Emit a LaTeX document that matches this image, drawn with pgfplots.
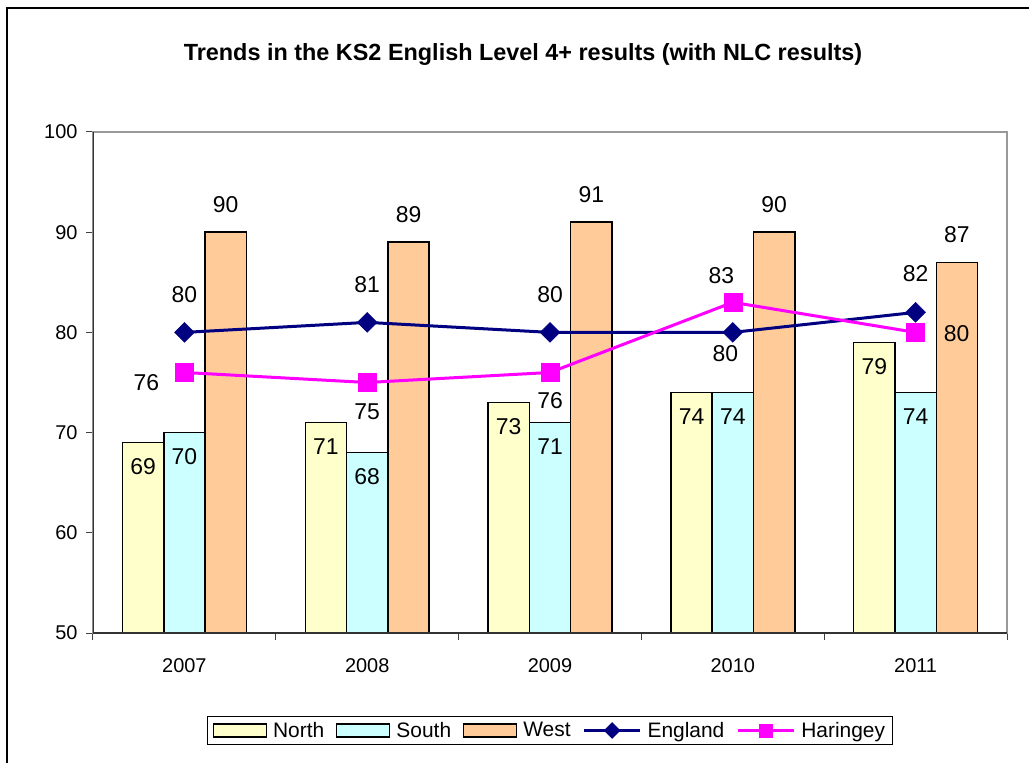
\documentclass[border=0pt]{standalone}
\usepackage{pgfplots}
\usepackage{pgfplotstable}
\pgfplotsset{compat=1.18}
\usepackage{fontspec}
\setmainfont{Liberation Sans}
\definecolor{northc}{HTML}{FFFFCC}
\definecolor{southc}{HTML}{CCFFFF}
\definecolor{westc}{HTML}{FFCC99}
\definecolor{engc}{HTML}{000080}
\definecolor{harc}{HTML}{FF00FF}
\newcommand{\lf}{\fontsize{20}{24}\selectfont}
\newcommand{\df}{\fontsize{23}{27}\selectfont}
\newcommand{\gf}{\fontsize{21}{25}\selectfont}
\pgfplotsset{
  barleg/.style={legend image code/.code={\draw[##1, line width=1.2bp] (0bp,-6.5bp) rectangle (53bp,6.5bp);}},
  lineleg/.style={legend image code/.code={\draw[mark repeat=2, mark phase=2, ##1, every mark/.append style={scale=#1}] plot coordinates {(0bp,0bp) (28bp,0bp) (56bp,0bp)};}},
}
\pgfplotstableread{
x y
0 69
1 71
2 73
3 74
4 79
}\north
\pgfplotstableread{
x y
0 70
1 68
2 71
3 74
4 74
}\south
\pgfplotstableread{
x y
0 90
1 89
2 91
3 90
4 87
}\west
\pgfplotstableread{
x y dx dy
0 80 0 38
1 81 0 37.5
2 80 0 37.5
3 80 -7.5 -21.5
4 82 0 38.5
}\england
\pgfplotstableread{
x y dx dy
0 76 -38 -10
1 75 0 -29.5
2 76 0 -28
3 83 -11.5 26.5
4 80 41 -1
}\haringey
\begin{document}
\begin{tikzpicture}
\path[use as bounding box] (0,0) rectangle (1029bp,763bp);
\draw[black, line width=1.5bp] (7bp,0) -- (7bp,755bp) -- (1029bp,755bp);
\node[font=\fontsize{23.5}{27}\selectfont\bfseries] at (523bp,708bp) {Trends in the KS2 English Level 4+ results (with NLC results)};
\begin{axis}[
  at={(93bp,130bp)}, anchor=south west,
  scale only axis, width=914bp, height=501bp,
  xmin=-0.5, xmax=4.5, ymin=50, ymax=100,
  xtick={-0.5,0.5,...,4.5},
  x tick label as interval,
  xticklabels={2007,2008,2009,2010,2011},
  ytick={50,60,...,100},
  tick pos=left, tick align=outside, major tick length=7bp,
  tick style={black!75, line width=1bp},
  axis line style={black!40, line width=1.2bp},
  /pgf/number format/assume math mode=true,
  ticklabel style={font=\lf},
  xticklabel style={yshift=-15bp},
  yticklabel style={xshift=-5bp},
  legend columns=5,
  legend style={at={(0.5,-0.1946)}, anchor=center, draw=black, line width=1bp,
    font=\gf, inner xsep=5bp, inner ysep=4bp,
    /tikz/every odd column/.append style={column sep=4bp},
    /tikz/every even column/.append style={column sep=10bp}},
  legend cell align=left,
  every node near coord/.append style={font=\df, text=black},
]
\addplot[ybar, bar width=41.3bp, bar shift=-41.3bp, fill=northc, draw=black, line width=1.5bp,
  nodes near coords, every node near coord/.append style={anchor=center, xshift=-41.3bp, yshift=-24bp}, barleg]
  table[x=x,y=y] {\north};
\addlegendentry{North}
\addplot[ybar, bar width=41.3bp, bar shift=0bp, fill=southc, draw=black, line width=1.5bp,
  nodes near coords, every node near coord/.append style={anchor=center, yshift=-24bp}, barleg]
  table[x=x,y=y] {\south};
\addlegendentry{South}
\addplot[ybar, bar width=41.3bp, bar shift=41.3bp, fill=westc, draw=black, line width=1.5bp,
  nodes near coords, every node near coord/.append style={anchor=center, xshift=41.3bp, yshift=28bp}, barleg]
  table[x=x,y=y] {\west};
\addlegendentry{West}
\draw[black!80, line width=1.2bp] (rel axis cs:0,1) -- (rel axis cs:0,0) -- (rel axis cs:1,0);
\addplot[engc, line width=3bp, mark=square*, mark size=7bp,
  mark options={rotate=45, fill=engc, draw=engc, line width=0.5bp},
  visualization depends on={\thisrow{dx}\as\dx},
  visualization depends on={\thisrow{dy}\as\dy},
  nodes near coords, every node near coord/.append style={anchor=center, xshift=\dx bp, yshift=\dy bp},
  lineleg=0.8]
  table[x=x,y=y] {\england};
\addlegendentry{England}
\addplot[harc, line width=3bp, mark=square*, mark size=9bp,
  mark options={fill=harc, draw=harc, line width=0.5bp},
  visualization depends on={\thisrow{dx}\as\dx},
  visualization depends on={\thisrow{dy}\as\dy},
  nodes near coords, every node near coord/.append style={anchor=center, xshift=\dx bp, yshift=\dy bp},
  lineleg=0.72]
  table[x=x,y=y] {\haringey};
\addlegendentry{Haringey}
\end{axis}
\end{tikzpicture}
\end{document}
